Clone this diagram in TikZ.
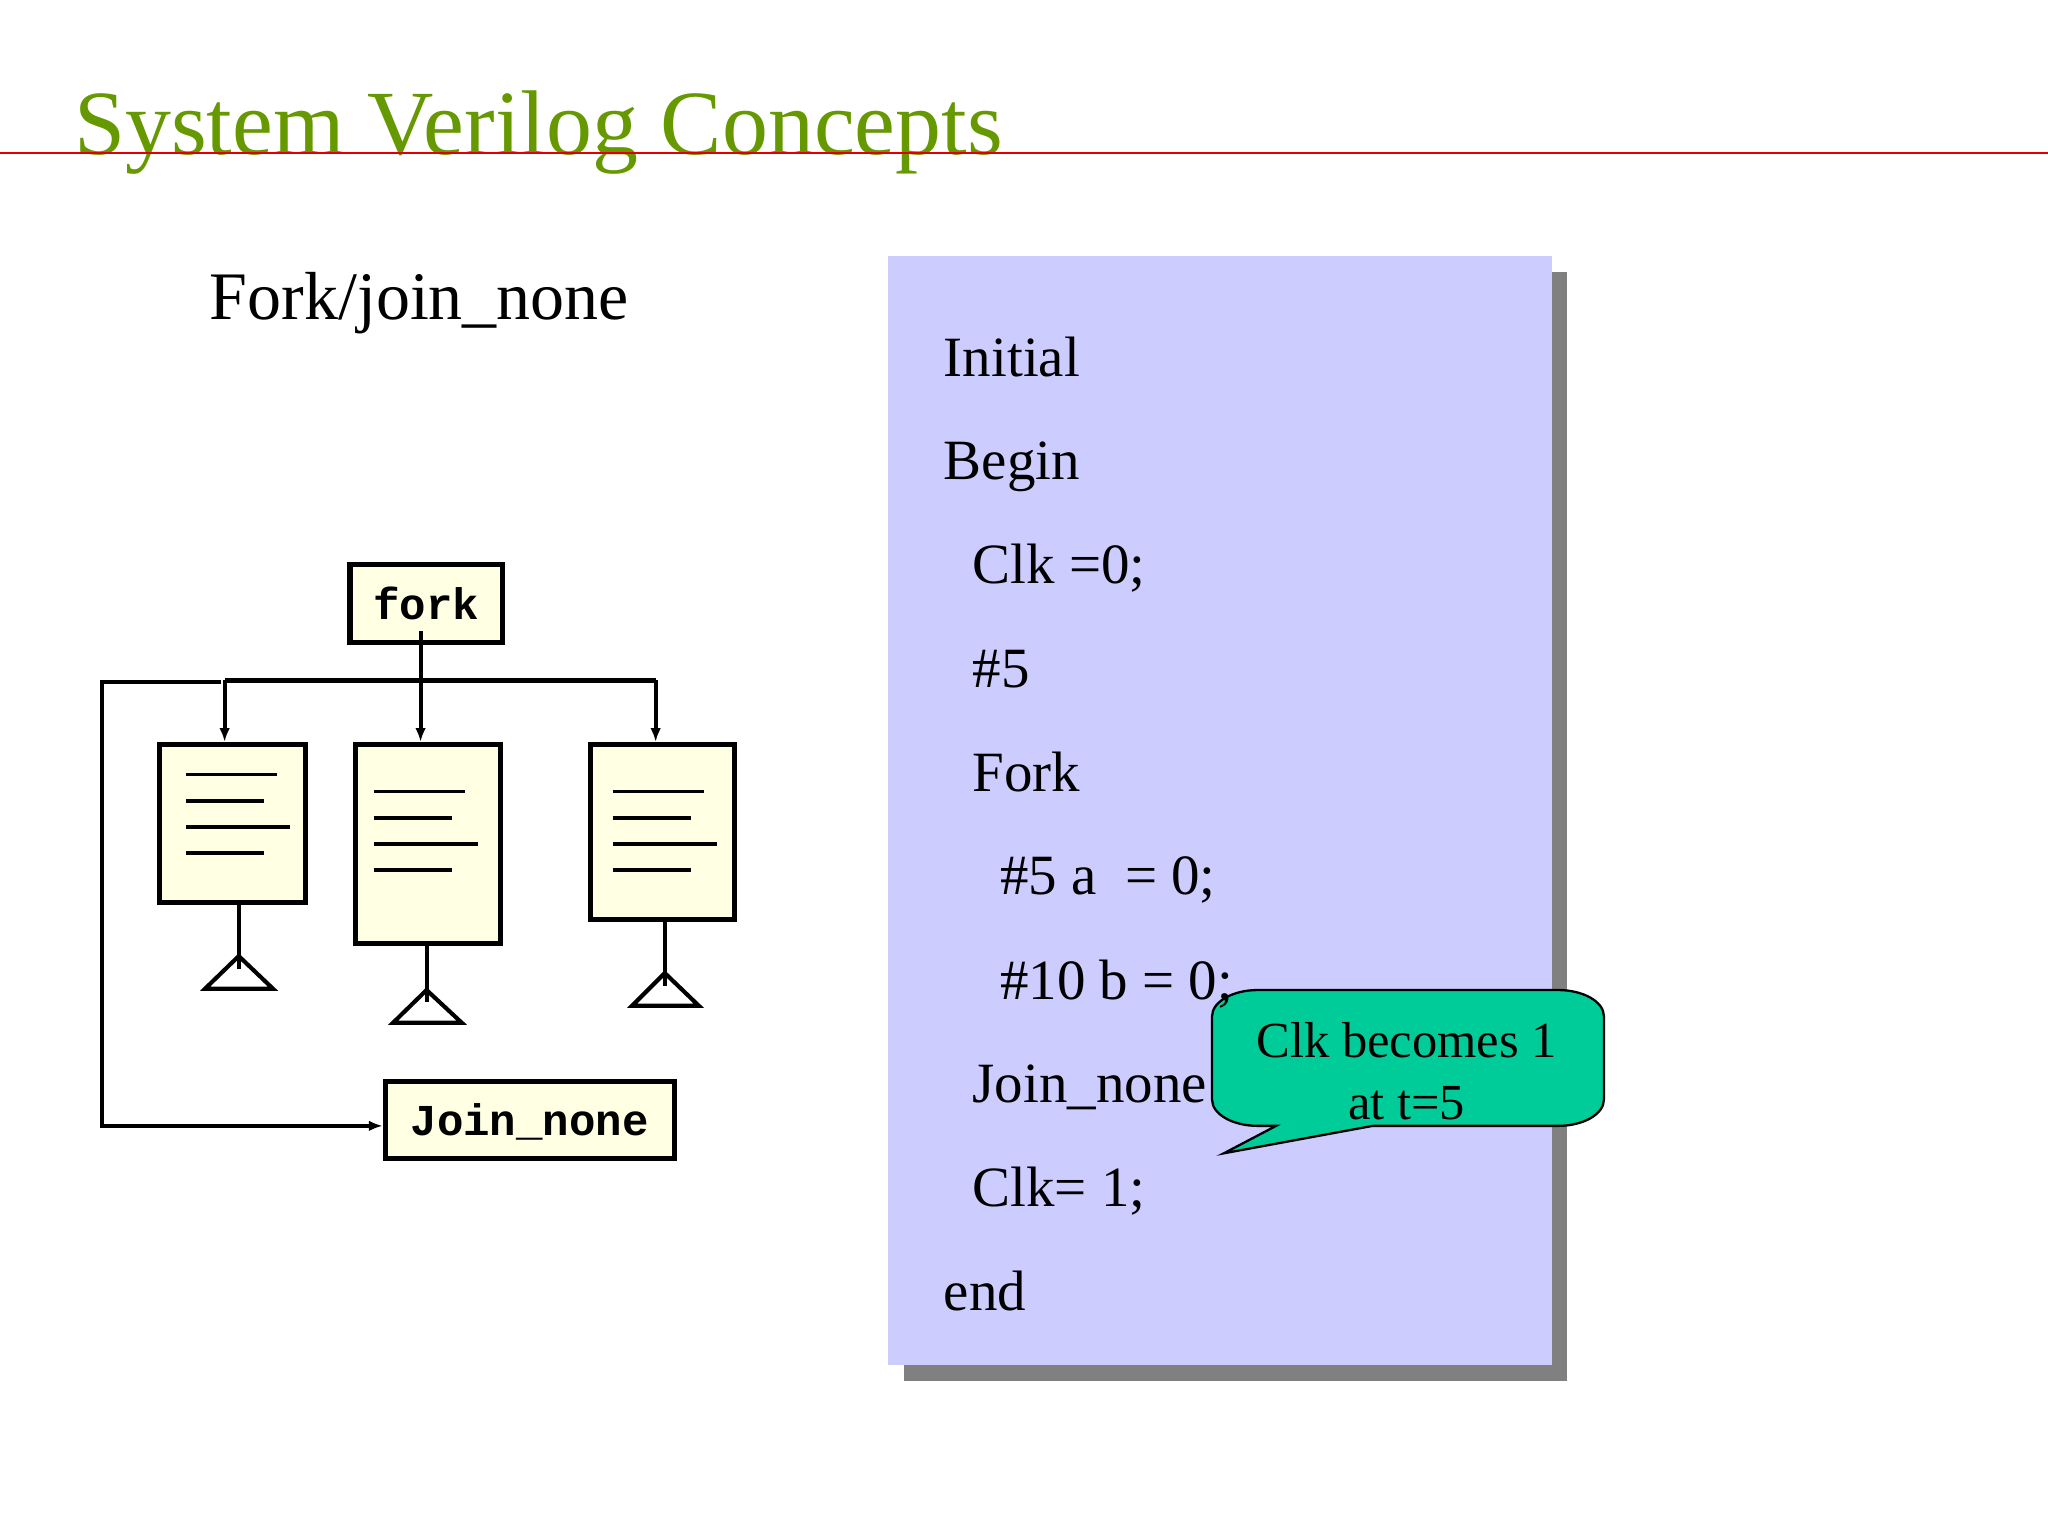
\documentclass[tikz,border=0pt]{standalone}
\usepackage{fontspec}
\setmainfont{Liberation Serif}
\setmonofont{Liberation Mono}
\usetikzlibrary{arrows.meta,calc}
\definecolor{titlegreen}{RGB}{102,153,0}
\definecolor{slidered}{RGB}{225,0,0}
\definecolor{boxfill}{RGB}{255,255,228}
\definecolor{codebg}{RGB}{204,204,255}
\definecolor{shadowgray}{RGB}{128,128,128}
\definecolor{calloutfill}{RGB}{0,204,153}
\begin{document}
\begin{tikzpicture}[x=0.01cm,y=-0.01cm,
  procbox/.style={draw=black,line width=1.1pt,fill=boxfill,inner sep=0pt},
  monolabel/.style={font=\fontsize{9.6}{11}\selectfont\ttfamily\bfseries,text depth=0pt},
  conn/.style={draw=black,line width=0.9pt},
  arr/.style={conn,-{Latex[length=3pt,width=2.3pt]}},
  textline/.style={draw=black,line width=0.85pt},
  codeline/.style={anchor=base west,inner sep=0pt,font=\fontsize{12.4}{14}\selectfont},
  callouttext/.style={anchor=base,inner sep=0pt,font=\fontsize{11}{13}\selectfont},
  calloutshape/.style={draw=black,line width=0.5pt,fill=calloutfill,line join=miter}]
\useasboundingbox (0,0) rectangle (1568,1176);
\fill[white] (0,0) rectangle (1568,1176);

% title
\node[anchor=base west,inner sep=0pt,text=titlegreen,font=\fontsize{20}{24}\selectfont] (title) at (56,118) {System Verilog Concepts};
\coordinate (rl) at (0,117);
\coordinate (rr) at (1568,117);
\draw[slidered,line width=0.5pt] (rl) -- (rr);

% subtitle
\node[anchor=base west,inner sep=0pt,font=\fontsize{14.8}{18}\selectfont] (sub) at (160,245) {Fork/join\_none};

% code box with shadow
\fill[shadowgray] (692,208) rectangle (1200,1057);
\fill[codebg] (680,196) rectangle (1188,1045);

% callout (speech bubble)
\draw[calloutshape] (977,862) -- (937,883) -- (1051,862) -- (1193,862)
  .. controls (1212.3,862) and (1228,853) .. (1228,842) -- (1228,778)
  .. controls (1228,767) and (1212.3,758) .. (1193,758) -- (963,758)
  .. controls (943.7,758) and (928,767) .. (928,778) -- (928,842)
  .. controls (928,853) and (943.7,862) .. (963,862) -- cycle;
\node[callouttext] (ct1) at (1077,810) {Clk becomes 1};
\node[callouttext] (ct2) at (1077,857) {at t=5};

% code lines
\node[codeline] (c1) at (722,288) {Initial};
\node[codeline] (c2) at (722,367) {Begin};
\node[codeline] (c3) at (744,447) {Clk =0;};
\node[codeline] (c4) at (744,526) {\#5};
\node[codeline] (c5) at (744,606) {Fork};
\node[codeline] (c6) at (765,685) {\#5 a\ \ = 0;};
\node[codeline] (c7) at (765,765) {\#10 b = 0;};
\node[codeline] (c8) at (744,844) {Join\_none};
\node[codeline] (c9) at (744,924) {Clk= 1;};
\node[codeline] (c10) at (722,1003) {end};

% diagram boxes
\node[procbox,monolabel,minimum width=1.17cm,minimum height=0.60cm] (fork) at (326.5,462) {fork};
\node[procbox,monolabel,minimum width=2.21cm,minimum height=0.59cm] (join) at (405.5,857.5) {Join\_none};
\node[procbox,minimum width=1.12cm,minimum height=1.21cm] (b1) at (178,630.5) {};
\node[procbox,minimum width=1.11cm,minimum height=1.52cm] (b2) at (327.5,646) {};
\node[procbox,minimum width=1.10cm,minimum height=1.34cm] (b3) at (507,637) {};

% text lines in boxes
\draw[textline] (142.6,593) -- (212,593) (142.6,613) -- (202,613) (142.6,633) -- (222,633) (142.6,653) -- (202,653);
\draw[textline] (286,606) -- (356,606) (286,626.5) -- (346,626.5) (286,646) -- (366,646) (286,666) -- (346,666);
\draw[textline] (469,606) -- (539,606) (469,626.5) -- (529,626.5) (469,646) -- (549,646) (469,666) -- (529,666);

% bus and arrows
\coordinate (forkout) at (322,483);
\coordinate (busL) at (172,521);
\coordinate (busM) at (322,521);
\coordinate (busR) at (502,521);
\draw[conn] (busL) -- (busR);
\draw[arr] (forkout) -- (busM) -- (busM |- b2.north);
\draw[arr] (busL) -- (busL |- b1.north);
\draw[arr] (busR) -- (busR |- b3.north);

% loop to join_none
\coordinate (loopS) at (169,522);
\coordinate (loopA) at (78,522);
\coordinate (loopB) at (78,862);
\draw[arr] (loopS) -- (loopA) -- (loopB) -- (loopB -| join.west);

% stems and triangles
\coordinate (s1) at (182.8,742);
\coordinate (s2) at (326.6,767);
\coordinate (s3) at (509,755);
\draw[conn] (s1 |- b1.south) -- (s1);
\draw[conn] (s2 |- b2.south) -- (s2);
\draw[conn] (s3 |- b3.south) -- (s3);
\draw[conn,line join=miter] (182.8,732) -- (209,757) -- (157,757) -- cycle;
\draw[conn,line join=miter] (326.6,758) -- (353.5,783) -- (301,783) -- cycle;
\draw[conn,line join=miter] (509,745) -- (535,770) -- (484,770) -- cycle;
\end{tikzpicture}
\end{document}
